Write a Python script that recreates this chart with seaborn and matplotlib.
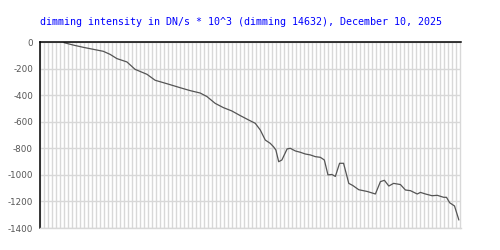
import matplotlib
matplotlib.use("Agg")
import matplotlib.pyplot as plt
import seaborn as sns
import pandas as pd
from matplotlib.ticker import MultipleLocator, NullFormatter

title = "dimming intensity in DN/s * 10^3 (dimming 14632), December 10, 2025"

# time position (grid cells) and dimming intensity values
time_pos = [6.0, 8.3, 10.8, 13.3, 15.8, 17.5, 19.2, 21.7, 23.75, 26.7, 28.75, 31.7, 35.0,
            37.5, 40.0, 41.7, 43.75, 45.8, 47.9, 50.0, 52.1, 53.75, 55.0, 56.25, 57.5,
            58.3, 58.9, 59.6, 60.4, 61.7, 62.5, 63.75, 65.0, 66.25, 67.5, 68.75, 70.0,
            71.0, 71.9, 72.9, 73.75, 74.8, 75.8, 77.1, 78.1, 79.6, 81.7, 83.75, 85.0,
            86.0, 87.1, 88.3, 90.0, 91.25, 92.5, 94.2, 95.0, 96.25, 97.9, 99.2, 100.8,
            101.5, 102.3, 103.5, 104.6]
intensity = [-5, -23, -40, -55, -70, -93, -125, -150, -206, -243, -288, -314, -344,
             -366, -384, -411, -462, -494, -519, -554, -587, -612, -662, -738, -763,
             -788, -813, -901, -888, -805, -800, -820, -830, -843, -850, -863, -868,
             -888, -1000, -997, -1012, -913, -913, -1064, -1080, -1112, -1125, -1144, -1051,
             -1041, -1084, -1064, -1073, -1114, -1119, -1144, -1132, -1144, -1157, -1154, -1169,
             -1169, -1210, -1234, -1340]
y_ticks = [0, -200, -400, -600, -800, -1000, -1200, -1400]

df = pd.DataFrame({"t": time_pos, "v": intensity})

sns.set_style("white")
fig = plt.figure(figsize=(5, 2.5), dpi=100)
ax = fig.add_axes([0.08, 0.088, 0.841, 0.744])

sns.lineplot(data=df, x="t", y="v", ax=ax, color="#555555", linewidth=0.9)

ax.set_xlim(0, 105)
ax.set_ylim(-1400, 0)
ax.xaxis.set_major_locator(MultipleLocator(1))
ax.xaxis.set_major_formatter(NullFormatter())
ax.set_yticks(y_ticks)
ax.set_yticklabels([str(t) for t in y_ticks], color="#555555", fontsize=6.3,
                   family="DejaVu Sans")
ax.tick_params(axis="both", length=0, pad=5)
ax.grid(True, color="#d8d8d8", linewidth=1.0)
ax.set_axisbelow(True)
ax.set_xlabel("")
ax.set_ylabel("")

for side in ["left", "top"]:
    ax.spines[side].set_visible(True)
    ax.spines[side].set_color("black")
    ax.spines[side].set_linewidth(1.1)
for side in ["right", "bottom"]:
    ax.spines[side].set_visible(True)
    ax.spines[side].set_color("#d8d8d8")
    ax.spines[side].set_linewidth(1.0)

fig.text(0.481, 0.912, title, color="blue", fontsize=7.2, family="DejaVu Sans Mono",
         ha="center", va="center")

fig.savefig("out.png", dpi=100)
